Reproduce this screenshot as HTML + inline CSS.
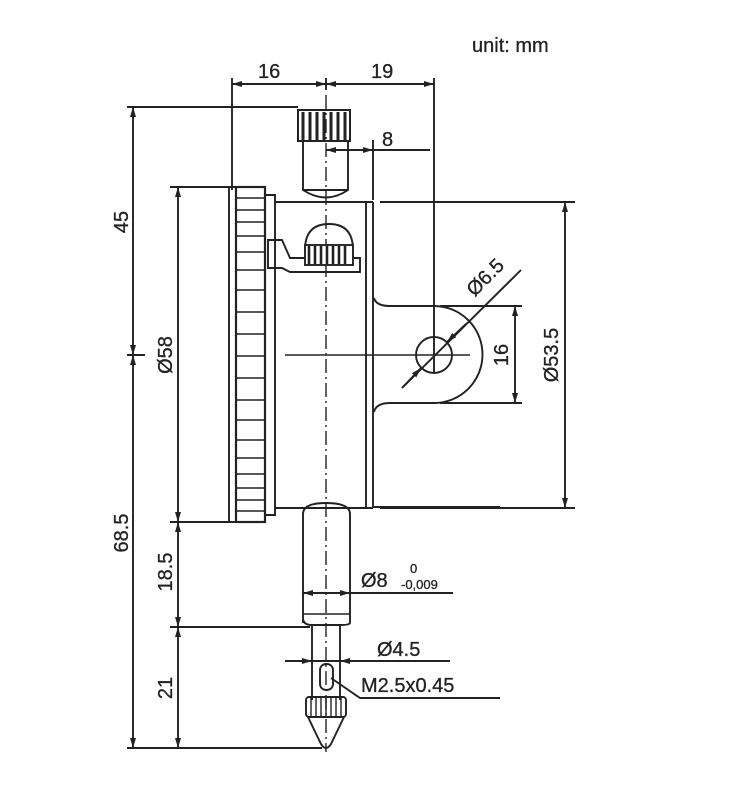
<!DOCTYPE html>
<html><head><style>
body{margin:0;background:#fff}
svg{display:block}
text{font-family:"Liberation Sans",sans-serif;fill:#222;stroke:#222;stroke-width:0.3}
</style></head><body>
<svg width="734" height="800" viewBox="0 0 734 800" xmlns="http://www.w3.org/2000/svg">
<defs>
<marker id="a" viewBox="0 0 10 6" refX="10" refY="3" markerWidth="10" markerHeight="6" orient="auto-start-reverse" markerUnits="userSpaceOnUse"><path d="M0,0L10,3L0,6z" fill="#222"/></marker>
</defs>
<g stroke="#222" stroke-width="1.9" fill="none">
<line x1="326" y1="95" x2="326" y2="752" stroke-width="1.4" stroke-dasharray="14,4,2,4"/>
<line x1="285" y1="355" x2="470" y2="355" stroke-width="1.4"/>
<line x1="232" y1="78" x2="232" y2="190"/>
<line x1="434" y1="78" x2="434" y2="372"/>
<line x1="326" y1="78" x2="326" y2="90"/>
<line x1="232" y1="84" x2="326" y2="84" marker-start="url(#a)" marker-end="url(#a)"/>
<line x1="326" y1="84" x2="434" y2="84" marker-start="url(#a)" marker-end="url(#a)"/>
<rect x="298" y="110" width="52" height="31" stroke-width="2"/>
<g stroke-width="3"><line x1="303" y1="112" x2="303" y2="140"/><line x1="310" y1="112" x2="310" y2="140"/><line x1="317" y1="112" x2="317" y2="140"/><line x1="324" y1="112" x2="324" y2="140"/><line x1="331" y1="112" x2="331" y2="140"/><line x1="338" y1="112" x2="338" y2="140"/><line x1="345" y1="112" x2="345" y2="140"/></g>
<path d="M303,141V190Q326,205 348,190V141"/>
<line x1="303" y1="190" x2="348" y2="190"/>
<line x1="373" y1="140" x2="373" y2="200"/>
<line x1="326" y1="150" x2="373" y2="150" marker-start="url(#a)" marker-end="url(#a)"/>
<line x1="373" y1="150" x2="430" y2="150"/>
<line x1="229" y1="187" x2="229" y2="522"/>
<rect x="236" y="187" width="29" height="335" stroke-width="2.2"/>
<path d="M236,198H265M236,210H265M236,222H265M236,236H265M236,252H265M236,270H265M236,290H265M236,312H265M236,334H265M236,356H265M236,378H265M236,400H265M236,420H265M236,440H265M236,458H265M236,474H265M236,488H265M236,500H265M236,511H265" stroke-width="1.6"/>
<path d="M265,195H275V515H265"/>
<line x1="275" y1="202" x2="373" y2="202"/>
<line x1="275" y1="508" x2="373" y2="508"/>
<line x1="366" y1="202" x2="366" y2="508"/>
<line x1="373" y1="202" x2="373" y2="508"/>
<path d="M268,240H282L290,258H360V272H290L282,268H268Z"/>
<path d="M305,250Q305,224 329,224Q353,224 353,250"/>
<rect x="305" y="245" width="48" height="20" fill="#fff"/>
<g stroke-width="2.6"><line x1="309" y1="246" x2="309" y2="264"/><line x1="315" y1="246" x2="315" y2="264"/><line x1="321" y1="246" x2="321" y2="264"/><line x1="327" y1="246" x2="327" y2="264"/><line x1="333" y1="246" x2="333" y2="264"/><line x1="339" y1="246" x2="339" y2="264"/><line x1="345" y1="246" x2="345" y2="264"/></g>
<path d="M374,298Q376,306 390,306H434A48.5,48.5 0 0 1 434,403H390Q376,403 374,412"/>
<circle cx="434" cy="355" r="18"/>
<line x1="380" y1="202" x2="575" y2="202"/>
<line x1="380" y1="508" x2="575" y2="508"/>
<line x1="565" y1="202" x2="565" y2="508" marker-start="url(#a)" marker-end="url(#a)"/>
<line x1="440" y1="306" x2="522" y2="306"/>
<line x1="440" y1="403" x2="522" y2="403"/>
<line x1="515" y1="306" x2="515" y2="403" marker-start="url(#a)" marker-end="url(#a)"/>
<line x1="402" y1="388" x2="521" y2="270"/>
<line x1="402" y1="388" x2="421" y2="368" marker-end="url(#a)"/>
<line x1="466" y1="324" x2="447" y2="342" marker-end="url(#a)"/>
<line x1="127" y1="107" x2="298" y2="107"/>
<line x1="133" y1="107" x2="133" y2="355" marker-start="url(#a)" marker-end="url(#a)"/>
<line x1="133" y1="355" x2="133" y2="748" marker-start="url(#a)" marker-end="url(#a)"/>
<line x1="127" y1="355" x2="145" y2="355"/>
<line x1="127" y1="748" x2="322" y2="748"/>
<line x1="170" y1="187" x2="236" y2="187"/>
<line x1="170" y1="522" x2="236" y2="522"/>
<line x1="178" y1="187" x2="178" y2="522" marker-start="url(#a)" marker-end="url(#a)"/>
<line x1="178" y1="522" x2="178" y2="627" marker-start="url(#a)" marker-end="url(#a)"/>
<line x1="170" y1="627" x2="310" y2="627"/>
<line x1="178" y1="627" x2="178" y2="748" marker-start="url(#a)" marker-end="url(#a)"/>
<path d="M303,623V514Q303,503 326,503Q350,503 350,514V623Q350,625 340,625H312Q303,625 303,618"/>
<line x1="303" y1="614" x2="350" y2="614" stroke-width="1.4"/>
<line x1="303" y1="593" x2="350" y2="593" marker-start="url(#a)" marker-end="url(#a)"/>
<line x1="350" y1="593" x2="453" y2="593"/>
<line x1="374" y1="507" x2="500" y2="507"/>
<line x1="312" y1="625" x2="312" y2="700"/>
<line x1="340" y1="625" x2="340" y2="700"/>
<line x1="285" y1="661" x2="312" y2="661" marker-end="url(#a)"/>
<line x1="312" y1="661" x2="340" y2="661"/>
<line x1="365" y1="661" x2="340" y2="661" marker-end="url(#a)"/>
<line x1="365" y1="661" x2="450" y2="661"/>
<rect x="320" y="664" width="13" height="26" rx="6"/>
<path d="M331,678L360,698H500"/>
<rect x="306" y="697" width="40" height="20" rx="3"/>
<path d="M311,698V716M316,698V716M321,698V716M326,698V716M331,698V716M336,698V716M341,698V716" stroke-width="1.4"/>
<path d="M308,717L321,744Q326,752 331,744L344,717"/>
</g>
<text x="472" y="52" font-size="20">unit: mm</text>
<text x="258" y="78" font-size="20">16</text>
<text x="371" y="78" font-size="20">19</text>
<text x="382" y="146" font-size="20">8</text>
<text x="128" y="222" font-size="20" transform="rotate(-90 128 222)" text-anchor="middle">45</text>
<text x="128" y="533" font-size="20" transform="rotate(-90 128 533)" text-anchor="middle">68.5</text>
<text x="172" y="355" font-size="20" transform="rotate(-90 172 355)" text-anchor="middle">Ø58</text>
<text x="172" y="572" font-size="20" transform="rotate(-90 172 572)" text-anchor="middle">18.5</text>
<text x="172" y="688" font-size="20" transform="rotate(-90 172 688)" text-anchor="middle">21</text>
<text x="508" y="355" font-size="20" transform="rotate(-90 508 355)" text-anchor="middle">16</text>
<text x="558" y="355" font-size="20" transform="rotate(-90 558 355)" text-anchor="middle">Ø53.5</text>
<text x="490" y="282" font-size="20" transform="rotate(-45 490 282)" text-anchor="middle">Ø6.5</text>
<text x="361" y="587" font-size="20">Ø8</text>
<text x="410" y="573" font-size="13">0</text>
<text x="401" y="589" font-size="13">-0,009</text>
<text x="377" y="656" font-size="20">Ø4.5</text>
<text x="361" y="692" font-size="20">M2.5x0.45</text>
</svg>
</body></html>
